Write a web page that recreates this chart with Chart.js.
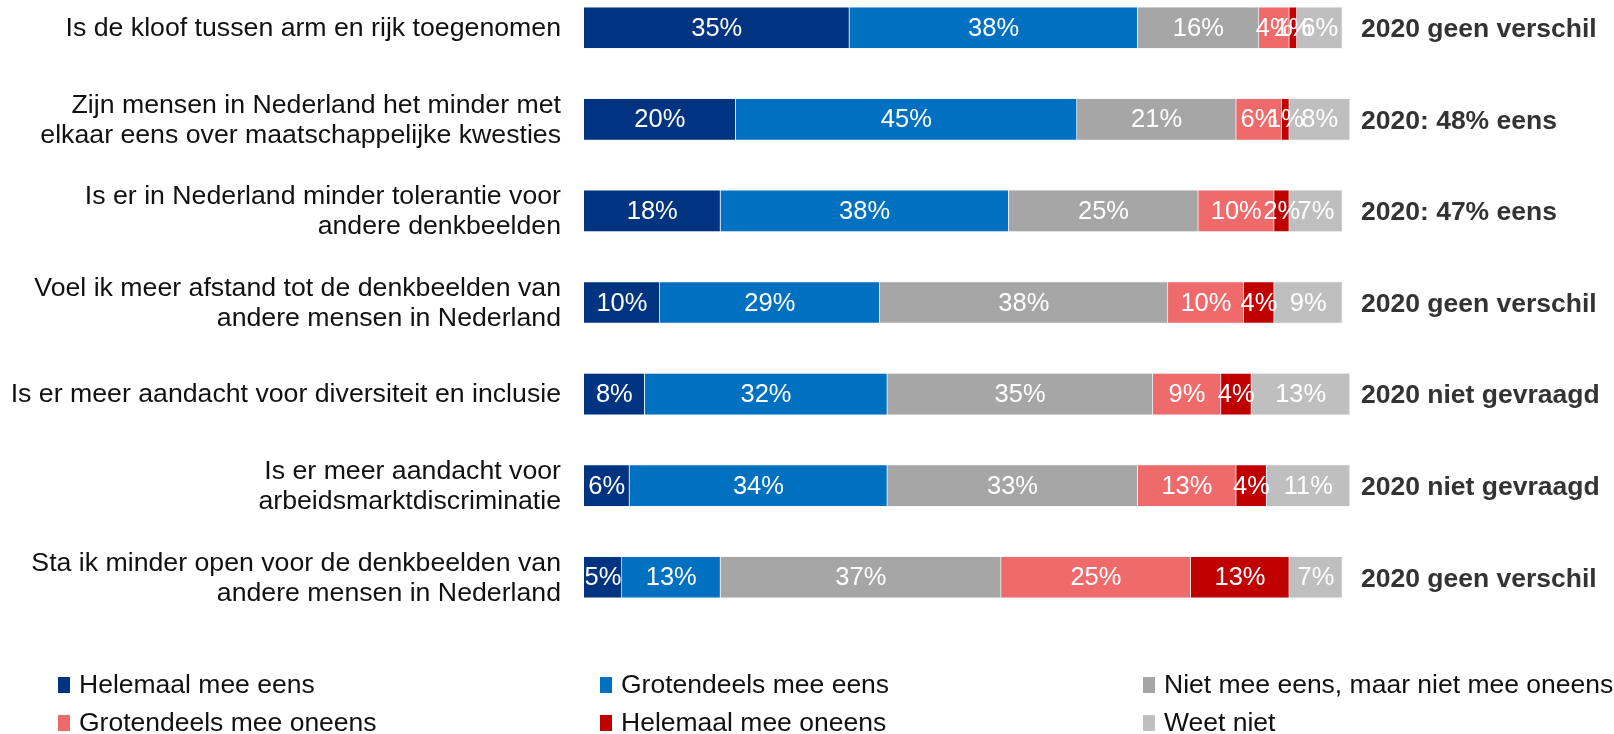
<!DOCTYPE html>
<html>
<head>
<meta charset="utf-8">
<script src="https://cdn.jsdelivr.net/npm/chart.js@4/dist/chart.umd.min.js"></script>
<style>
html,body{margin:0;padding:0;background:#fff;overflow:hidden;width:1614px;height:734px;}
#wrap{position:absolute;left:0;top:-18px;width:1614px;height:752px;}
</style>
</head>
<body>
<div id="wrap"><canvas id="c" width="1614" height="752"></canvas></div>
<script>
const categories = [
  ["Is de kloof tussen arm en rijk toegenomen"],
  ["Zijn mensen in Nederland het minder met", "elkaar eens over maatschappelijke kwesties"],
  ["Is er in Nederland minder tolerantie voor", "andere denkbeelden"],
  ["Voel ik meer afstand tot de denkbeelden van", "andere mensen in Nederland"],
  ["Is er meer aandacht voor diversiteit en inclusie"],
  ["Is er meer aandacht voor", "arbeidsmarktdiscriminatie"],
  ["Sta ik minder open voor de denkbeelden van", "andere mensen in Nederland"]
];
const seriesNames = [
  "Helemaal mee eens",
  "Grotendeels mee eens",
  "Niet mee eens, maar niet mee oneens",
  "Grotendeels mee oneens",
  "Helemaal mee oneens",
  "Weet niet"
];
const helemaalEens   = [35, 20, 18, 10, 8, 6, 5];
const grotendeelsEens = [38, 45, 38, 29, 32, 34, 13];
const neutraal       = [16, 21, 25, 38, 35, 33, 37];
const grotendeelsOneens = [4, 6, 10, 10, 9, 13, 25];
const helemaalOneens = [1, 1, 2, 4, 4, 4, 13];
const weetNiet       = [6, 8, 7, 9, 13, 11, 7];
const annotations = [
  "2020 geen verschil",
  "2020: 48% eens",
  "2020: 47% eens",
  "2020 geen verschil",
  "2020 niet gevraagd",
  "2020 niet gevraagd",
  "2020 geen verschil"
];
const colors = ["#003380", "#0070C0", "#A6A6A6", "#EF6A6B", "#C00000", "#BFBFBF"];

const FONT = "'Liberation Sans', Arial, sans-serif";
const seriesValues = [helemaalEens, grotendeelsEens, neutraal, grotendeelsOneens, helemaalOneens, weetNiet];

const labelPlugin = {
  id: 'labels',
  afterDatasetsDraw(chart) {
    const ctx = chart.ctx;
    ctx.save();
    ctx.font = "25.5px " + FONT;
    ctx.fillStyle = "#ffffff";
    ctx.textAlign = "center";
    ctx.textBaseline = "middle";
    chart.data.datasets.forEach((ds, di) => {
      const meta = chart.getDatasetMeta(di);
      meta.data.forEach((el, i) => {
        const cx = (el.x + el.base) / 2;
        ctx.fillText(ds.data[i] + "%", cx, el.y + 1);
      });
    });
    const meta0 = chart.getDatasetMeta(0);
    // category labels (left)
    ctx.font = "26.7px " + FONT;
    ctx.fillStyle = "#111111";
    ctx.textAlign = "right";
    chart.data.labels.forEach((lines, i) => {
      const y0 = meta0.data[i].y - (lines.length - 1) * 30 / 2;
      lines.forEach((ln, k) => ctx.fillText(ln, chart.chartArea.left - 23, y0 + k * 30 + 1));
    });
    // right annotations
    ctx.font = "bold 26.5px " + FONT;
    ctx.fillStyle = "#333333";
    ctx.textAlign = "left";
    annotations.forEach((t, i) => {
      ctx.fillText(t, chart.chartArea.right + 11, meta0.data[i].y + 2);
    });
    // legend
    ctx.font = "26.5px " + FONT;
    const colX = [58, 600, 1143];
    const rowY = [703, 741];
    seriesNames.forEach((name, i) => {
      const x = colX[i % 3], y = rowY[Math.floor(i / 3)];
      ctx.fillStyle = colors[i];
      ctx.fillRect(x, y - 8, 12, 16);
      ctx.fillStyle = "#111111";
      ctx.fillText(name, x + 21, y + 1);
    });
    ctx.restore();
  }
};

new Chart(document.getElementById('c'), {
  type: 'bar',
  data: {
    labels: categories,
    datasets: seriesNames.map((n, i) => ({
      label: n,
      data: seriesValues[i],
      backgroundColor: colors[i],
      borderColor: 'rgba(235,240,248,0.55)',
      borderWidth: 1,
      barThickness: 42
    }))
  },
  options: {
    indexAxis: 'y',
    responsive: false,
    animation: false,
    devicePixelRatio: 1,
    layout: { padding: { left: 584, right: 264, top: 0, bottom: 111 } },
    plugins: { legend: { display: false }, tooltip: { enabled: false } },
    scales: {
      x: { stacked: true, min: 0, max: 101, display: false },
      y: { stacked: true, display: false }
    }
  },
  plugins: [labelPlugin]
});
</script>
</body>
</html>
